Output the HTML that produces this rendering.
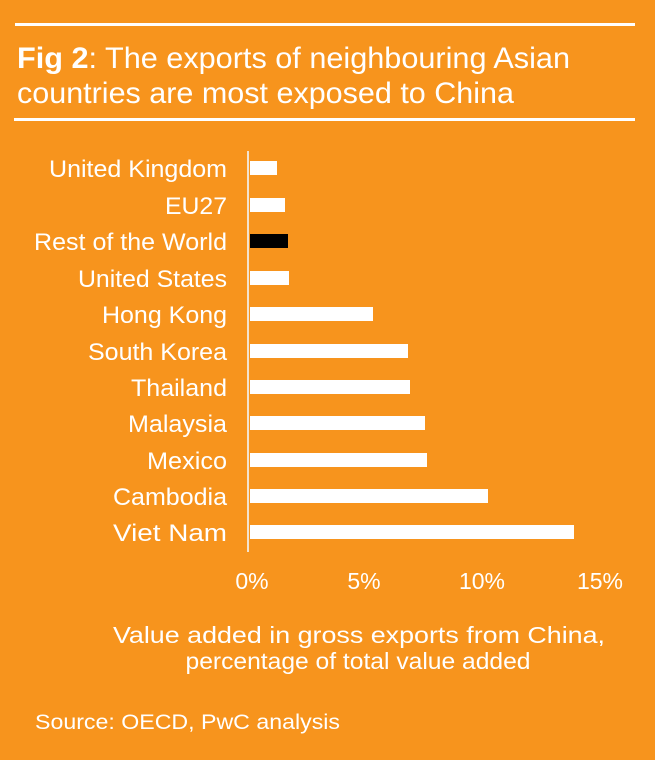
<!DOCTYPE html>
<html><head><meta charset="utf-8"><style>
body{margin:0;width:655px;height:760px;background:#F7941D;overflow:hidden;font-family:"Liberation Sans",Arial,sans-serif;color:#fff}
</style></head><body>
<svg width="655" height="760" xmlns="http://www.w3.org/2000/svg" style="position:absolute;left:0;top:0">
<rect width="655" height="760" fill="#F7941D"/>
<rect x="15" y="23" width="620" height="3" fill="#fff"/>
<rect x="14" y="118" width="621" height="3" fill="#fff"/>
<g fill="#fff" font-family="Liberation Sans, Arial, sans-serif">
<text x="17" y="68" font-size="30" textLength="553" lengthAdjust="spacingAndGlyphs"><tspan font-weight="bold">Fig 2</tspan>: The exports of neighbouring Asian</text>
<text x="17" y="103" font-size="30" textLength="497" lengthAdjust="spacingAndGlyphs">countries are most exposed to China</text>
<g font-size="24" text-anchor="end">
<text x="227" y="177" textLength="178" lengthAdjust="spacingAndGlyphs">United Kingdom</text>
<text x="227" y="214" textLength="62" lengthAdjust="spacingAndGlyphs">EU27</text>
<text x="227" y="250" textLength="193" lengthAdjust="spacingAndGlyphs">Rest of the World</text>
<text x="227" y="287" textLength="149" lengthAdjust="spacingAndGlyphs">United States</text>
<text x="227" y="323" textLength="125" lengthAdjust="spacingAndGlyphs">Hong Kong</text>
<text x="227" y="360" textLength="139" lengthAdjust="spacingAndGlyphs">South Korea</text>
<text x="227" y="396" textLength="96" lengthAdjust="spacingAndGlyphs">Thailand</text>
<text x="227" y="432" textLength="99" lengthAdjust="spacingAndGlyphs">Malaysia</text>
<text x="227" y="469" textLength="80" lengthAdjust="spacingAndGlyphs">Mexico</text>
<text x="227" y="505" textLength="114" lengthAdjust="spacingAndGlyphs">Cambodia</text>
<text x="227" y="541" textLength="114" lengthAdjust="spacingAndGlyphs">Viet Nam</text>
</g>
<rect x="250" y="161" width="27" height="14"/>
<rect x="250" y="198" width="35" height="14"/>
<rect x="250" y="234" width="38" height="14" fill="#000"/>
<rect x="250" y="271" width="39" height="14"/>
<rect x="250" y="307" width="123" height="14"/>
<rect x="250" y="344" width="158" height="14"/>
<rect x="250" y="380" width="160" height="14"/>
<rect x="250" y="416" width="175" height="14"/>
<rect x="250" y="453" width="177" height="14"/>
<rect x="250" y="489" width="238" height="14"/>
<rect x="250" y="525" width="324" height="14"/>
<rect x="247" y="151" width="2" height="401" fill="#f3e3cf"/>
<g font-size="23" text-anchor="middle">
<text x="252" y="589">0%</text>
<text x="364" y="589">5%</text>
<text x="482" y="589">10%</text>
<text x="600" y="589">15%</text>
<text x="359" y="643" textLength="492" lengthAdjust="spacingAndGlyphs">Value added in gross exports from China,</text>
<text x="358" y="669" textLength="345" lengthAdjust="spacingAndGlyphs">percentage of total value added</text>
</g>
<text x="35" y="729" font-size="21" textLength="305" lengthAdjust="spacingAndGlyphs">Source: OECD, PwC analysis</text>
</g>
</svg>
</body></html>
